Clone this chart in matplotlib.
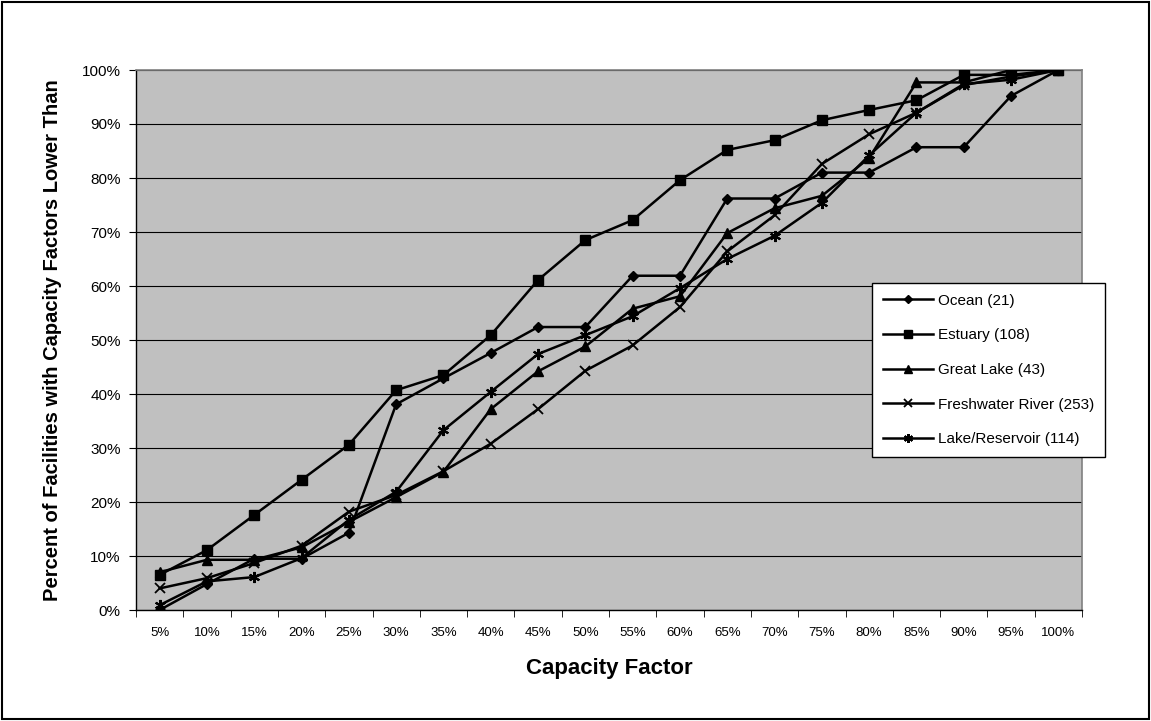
import matplotlib
matplotlib.use("Agg")
import matplotlib.pyplot as plt
from matplotlib.patches import Rectangle

plt.rcParams["font.family"] = ["Liberation Sans", "DejaVu Sans"]

# data (percent of facilities)
categories = ["5%", "10%", "15%", "20%", "25%", "30%", "35%", "40%", "45%", "50%",
              "55%", "60%", "65%", "70%", "75%", "80%", "85%", "90%", "95%", "100%"]
ocean = [0, 4.8, 9.5, 9.5, 14.3, 38.1, 42.9, 47.6, 52.4, 52.4,
         61.9, 61.9, 76.2, 76.2, 81.0, 81.0, 85.7, 85.7, 95.2, 100]
estuary = [6.5, 11.1, 17.6, 24.1, 30.6, 40.7, 43.5, 50.9, 61.1, 68.5,
           72.2, 79.6, 85.2, 87.0, 90.7, 92.6, 94.4, 99.1, 99.1, 100]
great_lake = [7.0, 9.3, 9.3, 11.6, 16.3, 20.9, 25.6, 37.2, 44.2, 48.8,
              55.8, 58.1, 69.8, 74.4, 76.7, 83.7, 97.7, 97.7, 100, 100]
freshwater = [4.0, 5.9, 8.7, 11.9, 18.2, 21.3, 25.7, 30.8, 37.2, 44.3,
              49.0, 56.1, 66.4, 73.1, 82.6, 88.1, 92.1, 97.2, 98.8, 100]
lake_res = [0.9, 5.3, 6.1, 9.6, 16.7, 21.9, 33.3, 40.4, 47.4, 50.9,
            54.4, 59.6, 65.0, 69.3, 75.4, 84.2, 92.1, 97.4, 98.2, 100]
labels = ["Ocean (21)", "Estuary (108)", "Great Lake (43)",
          "Freshwater River (253)", "Lake/Reservoir (114)"]

fig = plt.figure(figsize=(11.51, 7.21), dpi=100)
fig.patch.set_facecolor("white")
fig.add_artist(Rectangle((0.002, 0.003), 0.996, 0.994, transform=fig.transFigure,
                         fill=False, edgecolor="black", lw=1.5))

ax = fig.add_axes([136 / 1151, 1 - 610 / 721, (1082 - 136) / 1151, 540 / 721])
ax.set_facecolor("#c0c0c0")

x = list(range(len(categories)))
styles = [
    (ocean, dict(marker="D", ms=5.5)),
    (estuary, dict(marker="s", ms=7.5)),
    (great_lake, dict(marker="^", ms=7.5)),
    (freshwater, dict(marker="x", ms=7, mew=1.3)),
    (lake_res, dict(marker=(6, 2, 0), ms=8, mew=1.5)),
]
for (vals, st), lab in zip(styles, labels):
    ax.plot(x, vals, color="black", lw=1.8, mfc="black", mec="black",
            label=lab, zorder=3, **st)

ax.set_xlim(-0.5, len(categories) - 0.5)
ax.set_ylim(0, 100)
ax.set_yticks(range(0, 101, 10))
ax.set_yticklabels([f"{v}%" for v in range(0, 101, 10)], fontsize=11)
ax.set_xticks(x)
ax.set_xticklabels(categories, fontsize=9.5)
ax.set_xticks([i - 0.5 for i in range(len(categories) + 1)], minor=True)
ax.tick_params(axis="x", which="major", length=0, pad=12)
ax.tick_params(axis="x", which="minor", length=5, direction="out", color="black")
ax.tick_params(axis="y", length=5, direction="out", color="black", pad=6)
ax.grid(axis="y", color="black", lw=0.8)
ax.set_axisbelow(True)
for side in ["top", "right"]:
    ax.spines[side].set_color("#808080")
    ax.spines[side].set_linewidth(1.2)
for side in ["left", "bottom"]:
    ax.spines[side].set_color("black")
    ax.spines[side].set_linewidth(1.0)

ax.set_xlabel("Capacity Factor", fontsize=16, fontweight="bold", labelpad=14)
ax.set_ylabel("Percent of Facilities with Capacity Factors Lower Than",
              fontsize=14.5, fontweight="bold", labelpad=14)

leg = ax.legend(loc="upper left", bbox_to_anchor=(872 / 1151, 1 - 283 / 721),
                bbox_transform=fig.transFigure, fancybox=False, framealpha=1,
                edgecolor="black", fontsize=11, handlelength=3.3,
                labelspacing=1.35, borderpad=0.7, handletextpad=0.3,
                borderaxespad=0, markerscale=0.8)
leg.get_frame().set_linewidth(1.0)

fig.savefig("out.png", dpi=100)
